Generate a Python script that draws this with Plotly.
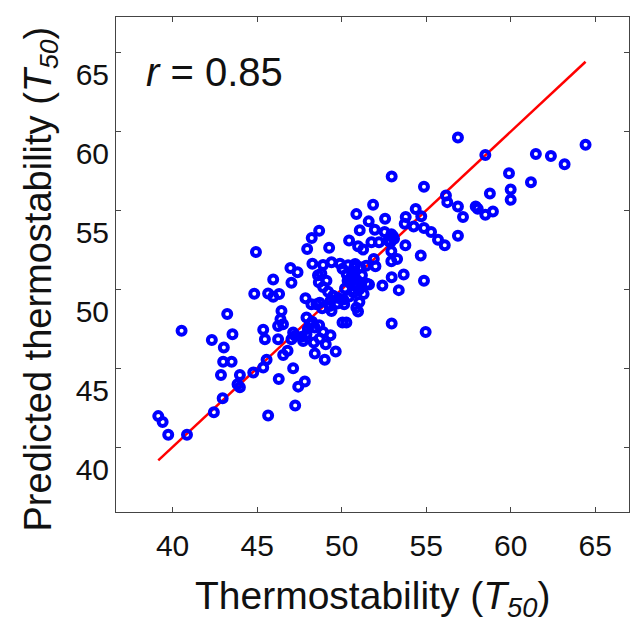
import numpy as np
import plotly.graph_objects as go

measured = [
    56.88, 58.50, 64.43, 61.49, 62.38, 63.19, 52.96, 54.87, 59.90, 61.20,
    60.00, 60.00, 58.77, 56.17, 56.25, 56.88, 57.18, 57.93, 58.05, 58.50,
    58.95, 56.88, 55.70, 56.10, 55.29, 54.87, 54.38, 54.71, 53.79, 53.73,
    54.26, 53.77, 54.68, 54.87, 54.97, 52.96, 53.38, 53.67, 52.96, 52.41,
    51.62, 51.86, 50.87, 51.60, 52.57, 51.07, 51.96, 50.44, 51.76, 52.21,
    52.54, 53.04, 52.88, 52.94, 53.28, 52.94, 50.97, 51.27, 51.90, 52.00,
    52.94, 53.10, 52.75, 49.26, 48.67, 48.23, 47.96, 44.93, 48.27, 46.97,
    47.39, 47.03, 45.95, 44.83, 45.65, 45.95, 46.30, 47.86, 48.51, 48.85,
    46.44, 46.38, 46.24, 46.53, 43.23, 43.54, 40.53, 42.32, 43.03, 42.99,
    43.49, 42.86, 43.98, 43.84, 43.98, 44.77, 45.36, 45.56, 42.96, 42.44,
    45.65, 39.15, 39.41, 39.74, 40.85, 45.36, 45.46, 46.24, 46.28, 46.54,
    46.80, 47.13, 47.43, 47.82, 47.25, 47.13, 47.03, 47.25, 47.72, 47.65,
    47.92, 48.12, 47.92, 48.41, 48.67, 48.90, 49.34, 48.70, 48.35, 49.06,
    48.41, 49.00, 49.65, 50.05, 50.28, 50.87, 50.97, 49.40, 49.30, 48.21,
    48.70, 48.25, 48.00,
    48.90, 49.40, 49.90, 50.38, 50.80, 51.10, 51.45, 48.60, 48.65, 48.90,
    49.20, 49.50, 49.80, 50.10, 50.45, 50.70, 51.00, 51.30, 50.30, 50.50,
    50.60, 50.90, 51.20, 50.20, 50.85, 51.50, 50.05, 48.80, 49.10, 49.35,
    49.75, 50.15, 51.05, 50.55, 50.75, 50.35, 50.91,
]
predicted = [
    59.63, 58.52, 59.17, 58.58, 58.46, 57.93, 57.15, 56.50, 57.36, 56.79,
    56.33, 55.68, 56.08, 55.95, 55.53, 55.26, 54.58, 55.26, 55.11, 54.73,
    54.94, 53.40, 53.15, 52.79, 53.64, 53.89, 55.09, 54.63, 54.58, 54.16,
    53.99, 52.79, 52.14, 50.54, 47.30, 47.83, 49.95, 50.94, 50.77, 50.25,
    50.31, 55.36, 54.77, 54.31, 54.48, 53.74, 53.78, 53.09, 52.98, 52.98,
    53.64, 53.36, 52.98, 52.42, 51.93, 51.78, 52.73, 52.52, 51.93, 51.47,
    53.49, 53.20, 53.10, 52.63, 53.72, 53.26, 52.56, 52.37, 51.62, 51.36,
    51.09, 50.42, 50.63, 49.72, 49.74, 49.53, 49.70, 49.43, 49.05, 48.80,
    48.63, 48.10, 47.68, 47.79, 48.44, 47.15, 47.37, 46.78, 46.31, 45.41,
    45.41, 44.57, 44.57, 43.98, 43.79, 44.73, 45.05, 45.53, 43.09, 42.21,
    42.00, 41.96, 41.58, 40.78, 40.78, 47.43, 46.84, 46.84, 44.31, 45.83,
    46.10, 44.99, 43.83, 44.15, 42.63, 47.26, 46.84, 47.05, 46.73, 47.00,
    48.21, 47.79, 47.15, 47.58, 47.72, 47.30, 47.09, 46.88, 46.63, 46.52,
    45.93, 45.53, 46.06, 47.89, 47.89, 48.84, 48.60, 48.63, 48.94, 49.05,
    49.15, 47.95, 47.50,
    51.55, 51.72, 51.62, 51.52, 51.60, 51.40, 51.50, 50.90, 50.45, 50.15,
    49.85, 49.60, 49.45, 49.35, 49.55, 49.80, 49.95, 49.70, 50.95, 50.40,
    51.15, 50.60, 50.90, 50.05, 50.20, 50.35, 51.30, 51.00, 50.55, 49.30,
    49.10, 49.05, 49.20, 50.75, 51.40, 50.55, 50.35,
]
r_label = "<i>r</i> = 0.85"
x_title = "Thermostability (<i>T<sub>50</sub></i>)"
y_title = "Predicted thermostability (<i>T<sub>50</sub></i>)"
tick_vals = [40, 45, 50, 55, 60, 65]

FONT = "Liberation Sans, Arial, Helvetica, sans-serif"
TXT = "#111111"
lo, hi = float(np.min(measured)), float(np.max(measured))

fig = go.Figure()
fig.add_trace(go.Scatter(x=[lo, hi], y=[lo, hi], mode="lines",
                         line=dict(color="#ff0000", width=2.5), hoverinfo="skip"))
fig.add_trace(go.Scatter(x=measured, y=predicted, mode="markers",
                         marker=dict(symbol="circle-open", size=8, color="#0000ff",
                                     line=dict(width=4, color="#0000ff"))))

axis_common = dict(
    showline=True, linecolor="#444444", linewidth=1, mirror="ticks",
    ticks="inside", ticklen=5, tickwidth=1, tickcolor="#444444",
    showgrid=False, zeroline=False, tickvals=tick_vals, automargin=False,
    tickfont=dict(family=FONT, size=30, color=TXT),
)
fig.update_xaxes(range=[36.65, 67.0], ticklabelstandoff=7, **axis_common)
fig.update_yaxes(range=[35.88, 67.27], ticklabelshift=22, **axis_common)

fig.add_annotation(x=38.3, y=63.8, xref="x", yref="y", text=r_label, showarrow=False,
                   xanchor="left", yanchor="middle", font=dict(family=FONT, size=40, color=TXT))
fig.add_annotation(x=0.5, y=0, xref="paper", yref="paper", text=x_title, showarrow=False,
                   xanchor="center", yanchor="middle", yshift=-86,
                   font=dict(family=FONT, size=39, color=TXT))
fig.add_annotation(x=0, y=0.5, xref="paper", yref="paper", text=y_title, showarrow=False,
                   textangle=-90, xanchor="center", yanchor="middle", xshift=-76, yshift=-15,
                   font=dict(family=FONT, size=38, color=TXT))

fig.update_layout(width=633, height=623, margin=dict(l=116, r=4, t=17, b=111),
                  paper_bgcolor="white", plot_bgcolor="white", showlegend=False)
fig.write_html("out.html", config={"displayModeBar": False},
               post_script="document.body.style.margin='0px';")
